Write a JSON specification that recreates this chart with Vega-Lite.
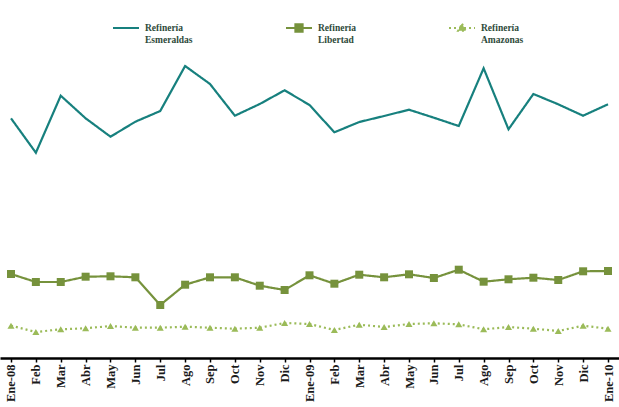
{
  "$schema": "https://vega.github.io/schema/vega-lite/v6.json",
  "width": 619,
  "height": 358,
  "padding": {"left": 0, "right": 0, "top": 0, "bottom": 0},
  "background": "white",
  "config": {"view": {"stroke": null}},
  "data": {"values": [
    {"mes": "Ene-08", "Refinería Esmeraldas": 239.7, "Refinería Libertad": 84, "Refinería Amazonas": 32.3},
    {"mes": "Feb-08", "Refinería Esmeraldas": 205.3, "Refinería Libertad": 76, "Refinería Amazonas": 26},
    {"mes": "Mar-08", "Refinería Esmeraldas": 262.3, "Refinería Libertad": 76, "Refinería Amazonas": 28.7},
    {"mes": "Abr-08", "Refinería Esmeraldas": 239.7, "Refinería Libertad": 81.3, "Refinería Amazonas": 29.7},
    {"mes": "May-08", "Refinería Esmeraldas": 221.3, "Refinería Libertad": 81.7, "Refinería Amazonas": 32},
    {"mes": "Jun-08", "Refinería Esmeraldas": 236.3, "Refinería Libertad": 80.7, "Refinería Amazonas": 30.3},
    {"mes": "Jul-08", "Refinería Esmeraldas": 247, "Refinería Libertad": 53, "Refinería Amazonas": 30.3},
    {"mes": "Ago-08", "Refinería Esmeraldas": 292, "Refinería Libertad": 73.3, "Refinería Amazonas": 31.3},
    {"mes": "Sep-08", "Refinería Esmeraldas": 274, "Refinería Libertad": 80.7, "Refinería Amazonas": 30.3},
    {"mes": "Oct-08", "Refinería Esmeraldas": 242.3, "Refinería Libertad": 80.7, "Refinería Amazonas": 29.3},
    {"mes": "Nov-08", "Refinería Esmeraldas": 254, "Refinería Libertad": 72.3, "Refinería Amazonas": 30.3},
    {"mes": "Dic-08", "Refinería Esmeraldas": 267.7, "Refinería Libertad": 68, "Refinería Amazonas": 35},
    {"mes": "Ene-09", "Refinería Esmeraldas": 253, "Refinería Libertad": 82.7, "Refinería Amazonas": 34},
    {"mes": "Feb-09", "Refinería Esmeraldas": 225.7, "Refinería Libertad": 74.3, "Refinería Amazonas": 28},
    {"mes": "Mar-09", "Refinería Esmeraldas": 236, "Refinería Libertad": 83.3, "Refinería Amazonas": 33.3},
    {"mes": "Abr-09", "Refinería Esmeraldas": 242, "Refinería Libertad": 80.7, "Refinería Amazonas": 31},
    {"mes": "May-09", "Refinería Esmeraldas": 248.3, "Refinería Libertad": 83.7, "Refinería Amazonas": 34},
    {"mes": "Jun-09", "Refinería Esmeraldas": 240.3, "Refinería Libertad": 80, "Refinería Amazonas": 34.7},
    {"mes": "Jul-09", "Refinería Esmeraldas": 232, "Refinería Libertad": 88.3, "Refinería Amazonas": 33.7},
    {"mes": "Ago-09", "Refinería Esmeraldas": 289.7, "Refinería Libertad": 76.3, "Refinería Amazonas": 28.7},
    {"mes": "Sep-09", "Refinería Esmeraldas": 228.7, "Refinería Libertad": 78.7, "Refinería Amazonas": 31},
    {"mes": "Oct-09", "Refinería Esmeraldas": 264, "Refinería Libertad": 80.3, "Refinería Amazonas": 29.3},
    {"mes": "Nov-09", "Refinería Esmeraldas": 253.7, "Refinería Libertad": 78, "Refinería Amazonas": 27},
    {"mes": "Dic-09", "Refinería Esmeraldas": 242.3, "Refinería Libertad": 86.7, "Refinería Amazonas": 32.3},
    {"mes": "Ene-10", "Refinería Esmeraldas": 253.7, "Refinería Libertad": 87, "Refinería Amazonas": 29.3}
  ]},
  "transform": [
    {"fold": ["Refinería Esmeraldas", "Refinería Libertad", "Refinería Amazonas"], "as": ["serie", "valor"]}
  ],
  "encoding": {
    "x": {
      "field": "mes", "type": "ordinal", "sort": null,
      "scale": {"type": "point", "padding": 0.442},
      "axis": {
        "title": null,
        "labelAngle": -90,
        "labelFont": "Liberation Serif",
        "labelFontWeight": "bold",
        "labelFontSize": 12.5,
        "labelColor": "#1a1a1a",
        "labelPadding": 2,
        "labelExpr": "indexof(datum.value, 'Ene') == 0 ? datum.value : slice(datum.value, 0, 3)",
        "domainColor": "#000000",
        "domainWidth": 2.5,
        "tickColor": "#000000",
        "tickWidth": 1.5,
        "tickSize": 4,
        "grid": false
      }
    },
    "y": {
      "field": "valor", "type": "quantitative",
      "scale": {"domain": [0, 358], "nice": false, "zero": true},
      "axis": null
    }
  },
  "layer": [
    {
      "mark": {"type": "line", "strokeWidth": 2.2},
      "encoding": {
        "color": {
          "field": "serie", "type": "nominal",
          "scale": {"domain": ["Refinería Esmeraldas", "Refinería Libertad", "Refinería Amazonas"], "range": ["#17807e", "#76923c", "#9bbb59"]},
          "legend": {
            "title": null,
            "orient": "none",
            "legendX": 112,
            "legendY": 14,
            "direction": "horizontal",
            "columns": 3,
            "gridAlign": "none",
            "columnPadding": 89,
            "padding": 0,
            "symbolSize": 676,
            "symbolStrokeWidth": 2,
            "labelOffset": 5,
            "labelFont": "Liberation Serif",
            "labelFontWeight": "bold",
            "labelFontSize": 9.5,
            "labelColor": "#2e4a3a",
            "labelBaseline": "middle",
            "labelExpr": "split(datum.label, ' ')",
            "encode": {
              "symbols": {"update": {
                "shape": {"signal": "datum.value == 'Refinería Esmeraldas' ? 'M-1,0H1' : datum.value == 'Refinería Libertad' ? 'M-1,0H1M-0.28,-0.28H0.28V0.28H-0.28Z' : 'M-1,0H1M0,-0.32L0.3,0.22H-0.3Z'"},
                "strokeDash": {"signal": "datum.value == 'Refinería Amazonas' ? [2, 2] : [1, 0]"},
                "fill": {"scale": "color", "field": "value"},
                "stroke": {"scale": "color", "field": "value"}
              }}
            }
          }
        },
        "strokeDash": {
          "field": "serie", "type": "nominal",
          "scale": {"domain": ["Refinería Esmeraldas", "Refinería Libertad", "Refinería Amazonas"], "range": [[1, 0], [1, 0], [2, 3]]},
          "legend": null
        }
      }
    },
    {
      "transform": [{"filter": "datum.serie != 'Refinería Esmeraldas'"}],
      "mark": {"type": "point", "filled": true, "opacity": 1},
      "encoding": {
        "color": {"field": "serie", "type": "nominal", "legend": null},
        "shape": {
          "field": "serie", "type": "nominal",
          "scale": {"domain": ["Refinería Libertad", "Refinería Amazonas"], "range": ["square", "triangle-up"]},
          "legend": null
        },
        "size": {
          "field": "serie", "type": "nominal",
          "scale": {"domain": ["Refinería Libertad", "Refinería Amazonas"], "range": [64, 50]},
          "legend": null
        }
      }
    }
  ]
}
